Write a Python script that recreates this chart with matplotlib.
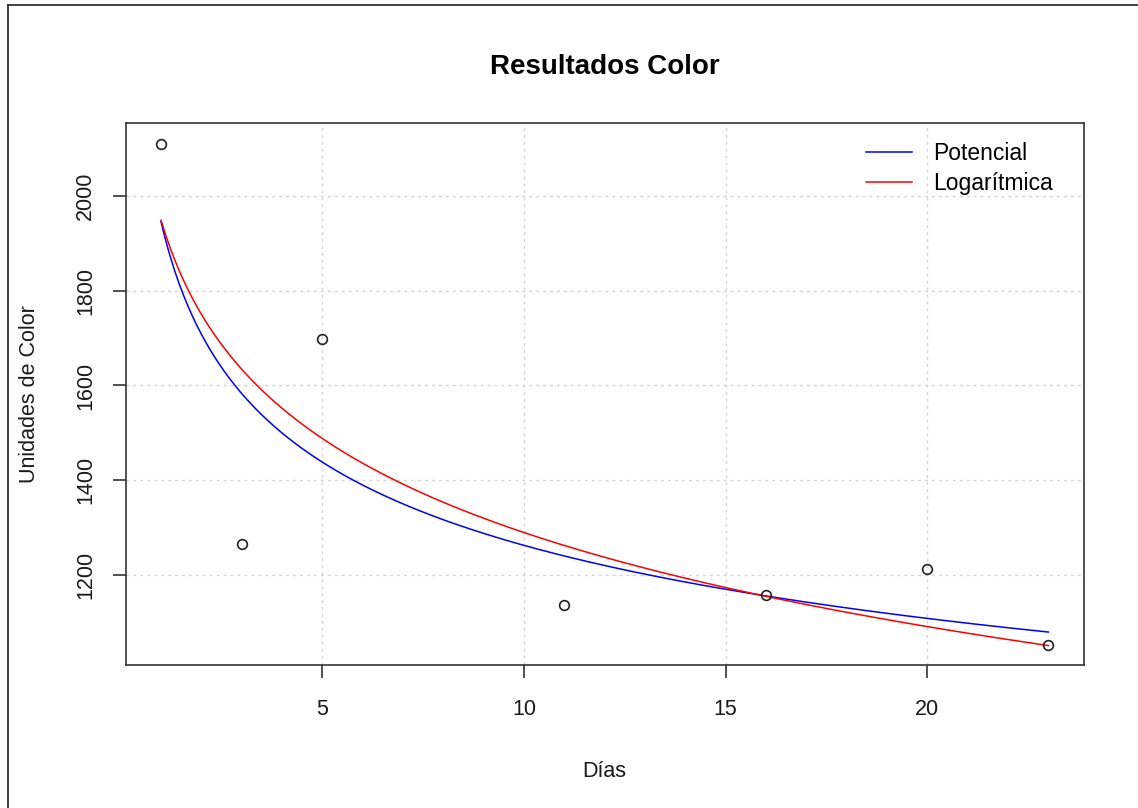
import numpy as np
import matplotlib
matplotlib.use("Agg")
import matplotlib.pyplot as plt
from matplotlib.lines import Line2D

plt.rcParams['font.family'] = ['Liberation Sans', 'DejaVu Sans']

# observed data
dias = [1, 3, 5, 11, 16, 20, 23]
color = [2110, 1265, 1698, 1137, 1158, 1212, 1052]

x = np.array(dias, dtype=float)
y = np.array(color, dtype=float)

# fits as in the original: y = a*x^b and y = a + b*ln(x)
b_pot, lna_pot = np.polyfit(np.log(x), np.log(y), 1)
b_log, a_log = np.polyfit(np.log(x), y, 1)
xs = np.linspace(x.min(), x.max(), 400)
y_pot = np.exp(lna_pot) * xs ** b_pot
y_log = a_log + b_log * np.log(xs)

fig = plt.figure(figsize=(11.38, 8.08), dpi=100)
ax = fig.add_axes([0.1103, 0.1764, 0.8422, 0.6708])

ax.plot(xs, y_pot, color='#0000ff', lw=1.1, label='Potencial')
ax.plot(xs, y_log, color='#ff0000', lw=1.1, label='Logarítmica')
ax.plot(x, y, 'o', mfc='none', mec='#222222', ms=7, mew=1.2)

# R-style 4% padding
px = (x.max() - x.min()) * 0.04
py = (y.max() - y.min()) * 0.04
ax.set_xlim(x.min() - px, x.max() + px)
ax.set_ylim(y.min() - py, y.max() + py)

ax.set_xticks([5, 10, 15, 20])
ax.set_yticks([1200, 1400, 1600, 1800, 2000])
ax.set_yticklabels(['1200', '1400', '1600', '1800', '2000'], rotation=90, va='center')
ax.grid(True, color='#d3d3d3', linestyle=(0, (2, 3)), lw=1)
ax.set_axisbelow(True)

for s in ax.spines.values():
    s.set_color('#333333')
    s.set_linewidth(1.2)
ax.tick_params(axis='both', length=9.7, width=1.2, color='#333333',
               labelsize=15.5, labelcolor='#1a1a1a')
ax.tick_params(axis='x', pad=14.5)
ax.tick_params(axis='y', pad=11.5)

ax.set_xlabel('Días', fontsize=15.5, va='baseline', color='#1a1a1a')
ax.xaxis.set_label_coords(0.5, -0.2052)
ax.set_ylabel('Unidades de Color', fontsize=15.5, va='baseline', color='#1a1a1a')
ax.yaxis.set_label_coords(-0.0944, 0.5)

fig.text(604.5 / 1138, 1 - 74.5 / 808, 'Resultados Color', fontsize=20,
         fontweight='bold', ha='center', va='baseline')

ax.legend(loc='upper left', bbox_to_anchor=(0.7726, 0.966), frameon=False,
          fontsize=16.5, handlelength=2.0, handletextpad=0.93,
          borderpad=0, borderaxespad=0, labelspacing=0.3)

# outer frame of the screenshot (only top and left visible)
fig.add_artist(Line2D([8 / 1138, 8 / 1138], [0, 1 - 5 / 808],
                      transform=fig.transFigure, color='#333333', lw=1.3))
fig.add_artist(Line2D([8 / 1138, 1], [1 - 5 / 808, 1 - 5 / 808],
                      transform=fig.transFigure, color='#333333', lw=1.3))

fig.savefig('out.png', dpi=100)
